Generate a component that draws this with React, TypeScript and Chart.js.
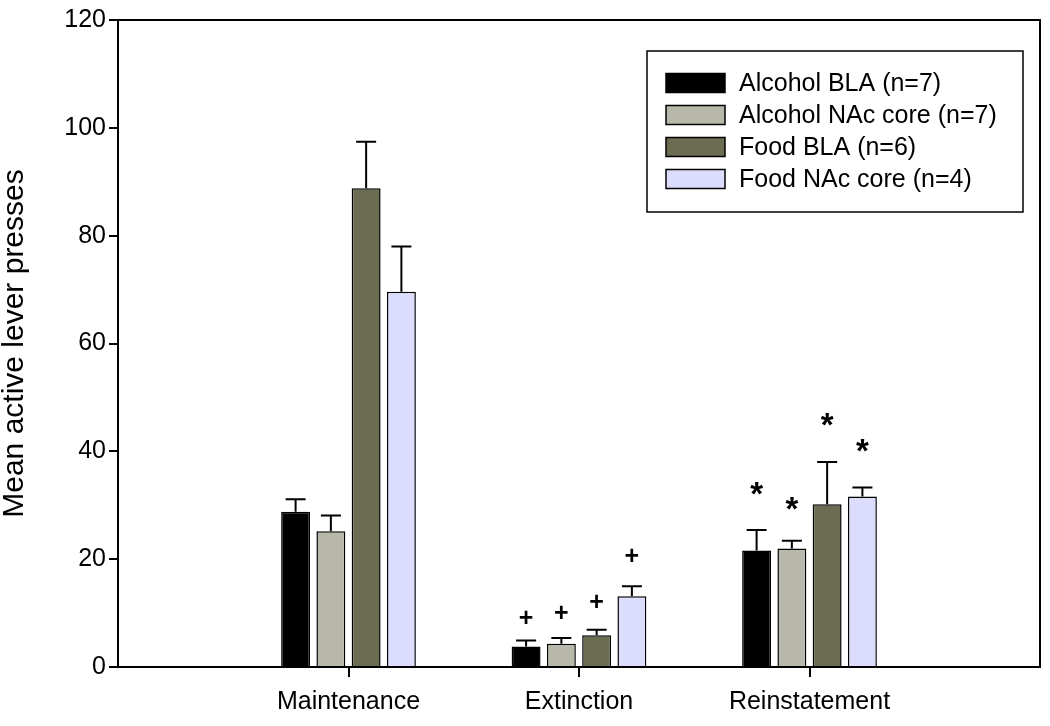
import React, { useEffect, useRef } from "react";
import { Chart, registerables } from "chart.js";

Chart.register(...registerables);

const categories = ["", "Maintenance", "Extinction", "Reinstatement", ""];
const seriesNames = [
  "Alcohol BLA (n=7)",
  "Alcohol NAc core (n=7)",
  "Food BLA (n=6)",
  "Food NAc core (n=4)",
];
const seriesColors = ["#000000", "#b8b8aa", "#6c6c53", "#dcdcfd"];

const alcoholBLA = [28.8, 3.8, 21.6];
const alcoholNAc = [25.2, 4.3, 22.0];
const foodBLA = [88.8, 5.9, 30.2];
const foodNAc = [69.6, 13.1, 31.6];

const alcoholBLAErr = [2.3, 1.1, 3.8];
const alcoholNAcErr = [2.9, 1.1, 1.4];
const foodBLAErr = [8.6, 1.0, 7.8];
const foodNAcErr = [8.4, 1.9, 1.7];

// significance marks (values at the centre of each symbol)
const extinctionPlus = [9.2, 10.2, 12.2, 20.7];
const reinstatementStar = [33.5, 30.7, 46.3, 41.6];

const yTicks = [0, 20, 40, 60, 80, 100, 120];

const FONT = "'Liberation Sans', Arial, Helvetica, sans-serif";

const allValues = [alcoholBLA, alcoholNAc, foodBLA, foodNAc];
const allErrors = [alcoholBLAErr, alcoholNAcErr, foodBLAErr, foodNAcErr];

const extras = {
  id: "extras",
  afterDatasetsDraw(chart: any) {
    const ctx = chart.ctx;
    const ys = chart.scales.y;
    ctx.save();
    ctx.strokeStyle = "#000";
    ctx.lineWidth = 2;
    chart.data.datasets.forEach((_ds: any, di: number) => {
      const meta = chart.getDatasetMeta(di);
      allErrors[di].forEach((e, ci) => {
        const el = meta.data[ci + 1];
        if (!el) return;
        const v = allValues[di][ci];
        const yb = ys.getPixelForValue(v);
        const yt = ys.getPixelForValue(v + e);
        ctx.beginPath();
        ctx.moveTo(el.x, yb);
        ctx.lineTo(el.x, yt);
        ctx.moveTo(el.x - 10, yt);
        ctx.lineTo(el.x + 10, yt);
        ctx.stroke();
      });
      const elE = meta.data[2];
      const elR = meta.data[3];
      ctx.fillStyle = "#000";
      ctx.textAlign = "center";
      ctx.textBaseline = "alphabetic";
      if (elE) {
        ctx.font = `bold 25px ${FONT}`;
        ctx.fillText("+", elE.x, ys.getPixelForValue(extinctionPlus[di]) + 8.5);
      }
      if (elR) {
        ctx.font = `bold 33px ${FONT}`;
        ctx.fillText("*", elR.x, ys.getPixelForValue(reinstatementStar[di]) + 19);
      }
    });
    ctx.restore();
  },
  afterDraw(chart: any) {
    const ctx = chart.ctx;
    const a = chart.chartArea;
    ctx.save();
    ctx.strokeStyle = "#000";
    ctx.lineWidth = 2;
    ctx.strokeRect(a.left, a.top, a.right - a.left, a.bottom - a.top);
    // legend
    const bx = a.right - 393;
    const by = a.top + 31;
    const bw = 376;
    const bh = 161;
    ctx.fillStyle = "#fff";
    ctx.fillRect(bx, by, bw, bh);
    ctx.lineWidth = 1.5;
    ctx.strokeRect(bx, by, bw, bh);
    ctx.font = `25px ${FONT}`;
    ctx.textAlign = "left";
    ctx.textBaseline = "middle";
    seriesNames.forEach((name, i) => {
      const cy = by + 32 + i * 32;
      ctx.fillStyle = seriesColors[i];
      ctx.fillRect(bx + 19, cy - 9.5, 59, 19);
      ctx.strokeStyle = "#000";
      ctx.lineWidth = 1.5;
      ctx.strokeRect(bx + 19, cy - 9.5, 59, 19);
      ctx.fillStyle = "#000";
      ctx.fillText(name, bx + 92, cy + 1);
    });
    ctx.restore();
  },
};

export default function App() {
  const ref = useRef<HTMLCanvasElement | null>(null);
  useEffect(() => {
    if (!ref.current) return;
    const chart = new Chart(ref.current, {
      type: "bar",
      data: {
        labels: categories,
        datasets: allValues.map((vals, i) => ({
          label: seriesNames[i],
          data: [null, ...vals, null],
          backgroundColor: seriesColors[i],
          borderColor: "#000",
          borderWidth: 1.5,
          categoryPercentage: 0.612,
          barPercentage: 0.82,
        })),
      },
      options: {
        animation: false,
        responsive: false,
        devicePixelRatio: 1,
        layout: { padding: { top: 20, right: 8, left: 0, bottom: 0 } },
        plugins: {
          legend: { display: false },
          tooltip: { enabled: false },
        },
        scales: {
          x: {
            offset: false,
            grid: {
              offset: false,
              drawOnChartArea: false,
              tickLength: 10,
              lineWidth: 2,
              color: (c: any) =>
                c.index === 0 || c.index === categories.length - 1 ? "rgba(0,0,0,0)" : "#000",
            },
            border: { display: false },
            ticks: {
              autoSkip: false,
              maxRotation: 0,
              color: "#000",
              padding: 10,
              font: { family: FONT, size: 25 },
            },
            afterFit: (s: any) => {
              s.height = 59;
            },
          },
          y: {
            min: 0,
            max: 120,
            afterBuildTicks: (s: any) => {
              s.ticks = yTicks.map((v) => ({ value: v }));
            },
            grid: {
              drawOnChartArea: false,
              tickLength: 9,
              lineWidth: 2,
              color: "#000",
            },
            border: { display: false },
            ticks: {
              color: "#000",
              padding: 3,
              font: { family: FONT, size: 25 },
            },
            title: {
              display: true,
              text: "Mean active lever presses",
              color: "#000",
              padding: 0,
              font: { family: FONT, size: 30, lineHeight: 1 },
            },
            afterFit: (s: any) => {
              s.width = 118;
            },
          },
        },
      },
      plugins: [extras],
    } as any);
    return () => chart.destroy();
  }, []);
  return (
    <div style={{ position: "fixed", left: 0, top: 0, width: 1050, height: 726, background: "#fff" }}>
      <canvas ref={ref} width={1050} height={726} />
    </div>
  );
}
